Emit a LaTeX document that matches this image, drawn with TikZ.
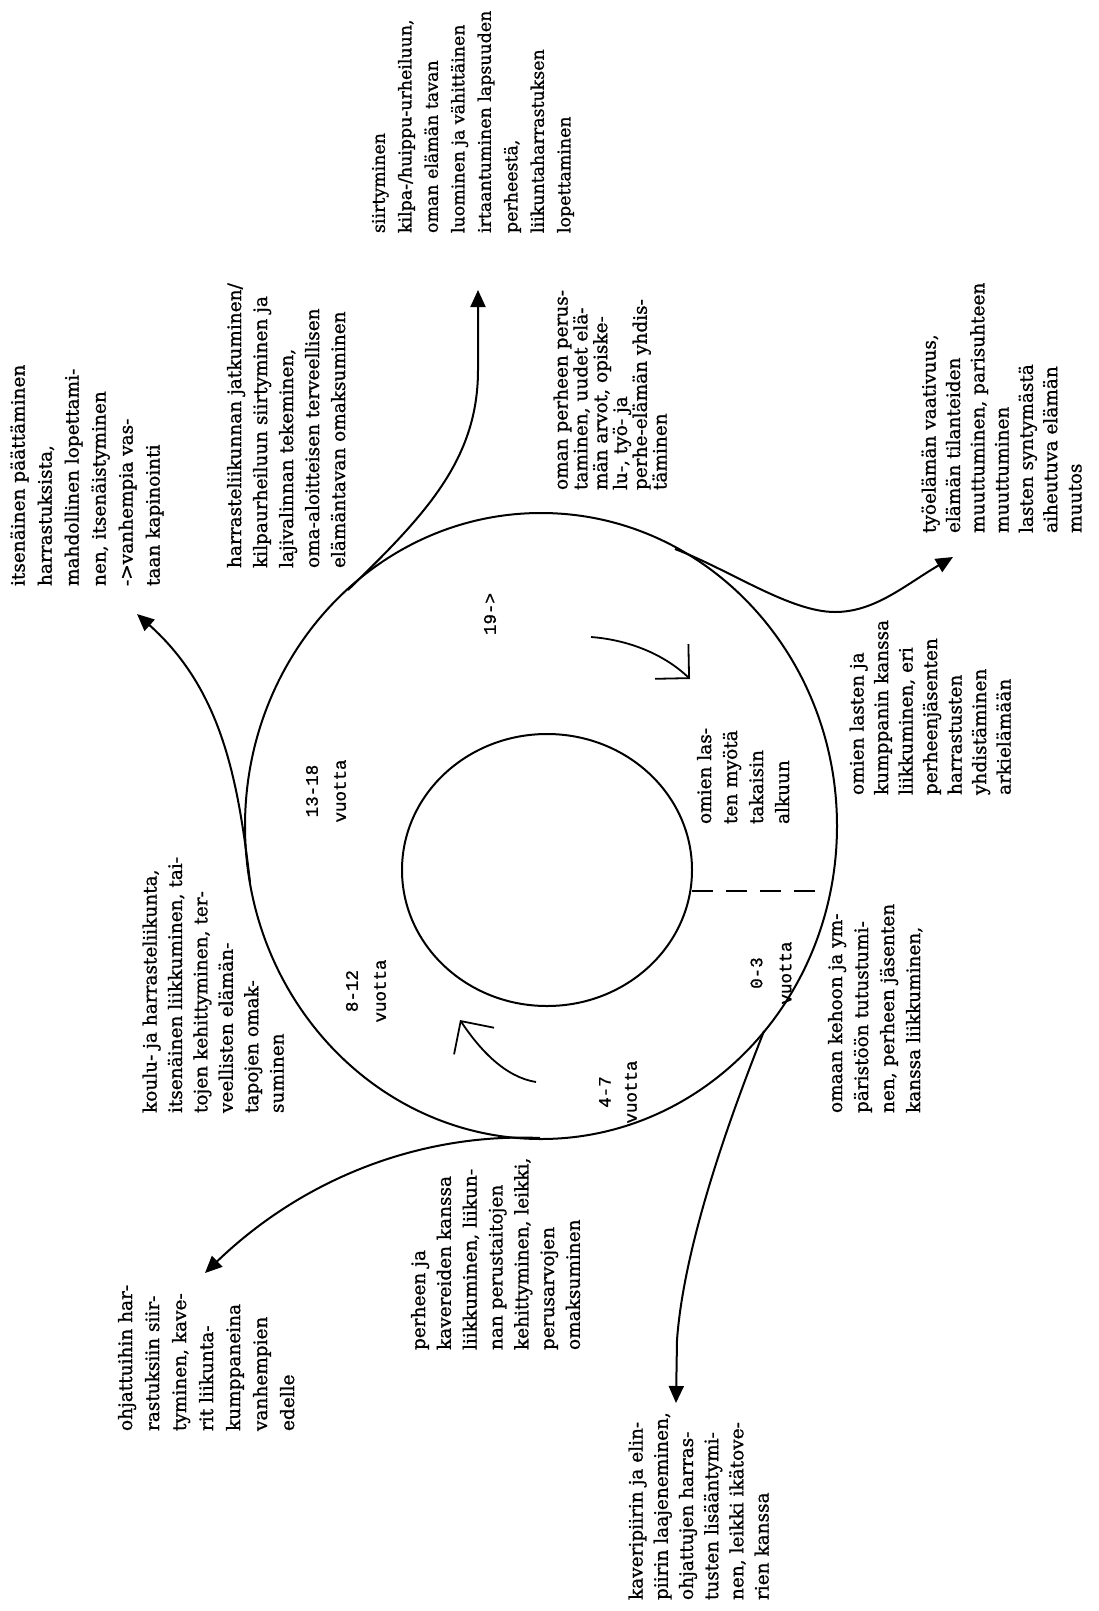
\documentclass[tikz,border=0pt]{standalone}
\usepackage{fontspec}
\setmainfont{DejaVu Serif}
\newfontfamily\txtfont{DejaVu Serif}[FakeBold=1]
\newfontfamily\agefont{Liberation Mono}[FakeBold=1]
\usetikzlibrary{arrows.meta}
\begin{document}
\begin{tikzpicture}[x=1pt,y=-1pt,
  every node/.style={inner sep=0pt, outer sep=0pt},
  blk/.style={rotate=90, anchor=north west, align=left, font=\txtfont\fontsize{18.5}{#1}\selectfont},
  blksm/.style={rotate=90, anchor=north west, align=left, font=\txtfont\fontsize{17.4}{#1}\selectfont},
  age/.style={rotate=90, anchor=center, align=center, font=\agefont\fontsize{17.5}{#1}\selectfont},
  ring/.style={line width=2pt},
  branch/.style={line width=2pt, -{Triangle[length=17pt,width=15pt]}},
  cyc/.style={line width=1.8pt, -{Straight Barb[length=24pt,width=48pt,line width=1.8pt]}},
]
\useasboundingbox (0,0) rectangle (1099,1611);
\fill[white] (0,0) rectangle (1099,1611);

% rings
\draw[ring] (541,826) ellipse [x radius=296, y radius=313];
\draw[ring] (547,870) ellipse [x radius=145, y radius=136];
\coordinate (dashA) at (692,891);
\coordinate (dashB) at (822,891);
\draw[line width=2pt, dash pattern=on 21pt off 13pt] (dashA) -- (dashB);

% age labels
\node[age=28] (g1318) at (326,791) {13-18\\vuotta};
\node[age=28] (g812) at (366,991) {8-12\\vuotta};
\node[age=26] (g47) at (618,1092) {4-7\\vuotta};
\node[age=29] (g03) at (771,973) {0-3\\vuotta};
\node[age=20] (g19) at (490,614) {19->};
\node[blk=26] (nL) at (697,824) {omien las-\\ten myötä\\takaisin\\alkuun};

% inner cycle arrows
\coordinate (u0) at (591,637);
\coordinate (u1) at (690,679);
\draw[cyc] (u0) .. controls (630,640) and (665,655) .. (u1);
\coordinate (l0) at (536,1082);
\coordinate (l1) at (460,1020);
\draw[cyc] (l0) .. controls (505,1077) and (480,1050) .. (l1);

% text blocks
\node[blk=27] (nA) at (10.5,586) {itsenäinen päättäminen\\harrastuksista,\\mahdollinen lopettami-\\nen, itsenäistyminen\\->vanhempia vas-\\taan kapinointi};
\node[blk=26] (nB) at (227,568) {harrasteliikunnan jatkuminen/\\kilpaurheiluun siirtyminen ja\\lajivalinnan tekeminen,\\oma-aloitteisen terveellisen\\elämäntavan omaksuminen};
\node[blksm=26.5] (nC) at (372,233) {siirtyminen\\kilpa-/huippu-urheiluun,\\oman elämän tavan\\luominen ja vähittäinen\\irtaantuminen lapsuuden\\perheestä,\\liikuntaharrastuksen\\lopettaminen};
\node[blk=19.8] (nD) at (553.5,490) {oman perheen perus-\\taminen, uudet elä-\\män arvot, opiske-\\lu-, työ- ja\\perhe-elämän yhdis-\\täminen};
\node[blk=24.3] (nE) at (921.5,533) {työelämän vaativuus,\\elämän tilanteiden\\muuttuminen, parisuhteen\\muuttuminen\\lasten syntymästä\\aiheutuva elämän\\muutos};
\node[blk=24.5] (nF) at (849.5,795) {omien lasten ja\\kumppanin kanssa\\liikkuminen, eri\\perheenjäsenten\\harrastusten\\yhdistäminen\\arkielämään};
\node[blk=26] (nG) at (828,1113) {omaan kehoon ja ym-\\päristöön tutustumi-\\nen, perheen jäsenten\\kanssa liikkuminen,};
\node[blk=25.2] (nH) at (628.5,1600) {kaveripiirin ja elin-\\piirin laajeneminen,\\ohjattujen harras-\\tusten lisääntymi-\\nen, leikki ikätove-\\rien kanssa};
\node[blk=25.8] (nI) at (411,1350) {perheen ja\\kavereiden kanssa\\liikkuminen, liikun-\\nan perustaitojen\\kehittyminen, leikki,\\perusarvojen\\omaksuminen};
\node[blk=27] (nJ) at (118,1431) {ohjattuihin har-\\rastuksiin siir-\\tyminen, kave-\\rit liikunta-\\kumppaneina\\vanhempien\\edelle};
\node[blk=25.4] (nK) at (142.5,1113) {koulu- ja harrasteliikunta,\\itsenäinen liikkuminen, tai-\\tojen kehittyminen, ter-\\veellisten elämän-\\tapojen omak-\\suminen};

% branches
\coordinate (a0) at (250,882);
\coordinate (a1) at (137,614);
\draw[branch] (a0) .. controls (238,780) and (222,690) .. (a1);
\coordinate (b0) at (348,590);
\coordinate (b1) at (478,290);
\draw[branch] (b0) .. controls (425,515) and (478,460) .. (478,370) -- (b1);
\coordinate (c0) at (675,549);
\coordinate (c1) at (953,557);
\draw[branch] (c0) .. controls (730,570) and (790,612) .. (835,612) .. controls (875,612) and (905,585) .. (c1);
\coordinate (d0) at (764,1031);
\coordinate (d1) at (676,1403);
\draw[branch] (d0) .. controls (745,1080) and (685,1230) .. (677,1340) -- (d1);
\coordinate (e0) at (540,1138);
\coordinate (e1) at (205,1273);
\draw[branch] (e0) .. controls (430,1133) and (310,1172) .. (e1);
\end{tikzpicture}
\end{document}
